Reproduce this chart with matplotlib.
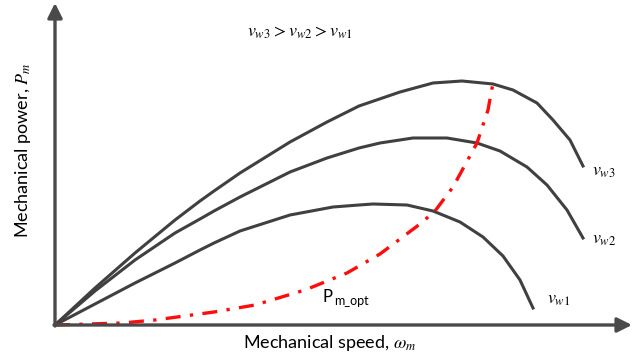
import matplotlib
matplotlib.use("Agg")
import matplotlib.pyplot as plt

plt.rcParams['mathtext.fontset'] = 'stix'
plt.rcParams['font.family'] = ['Lato', 'DejaVu Sans']

# power curves: speed on x, power on y (arbitrary units)
w3 = [0, 40, 80, 120, 145, 159, 185, 235, 272, 304, 345, 378, 407, 438, 458, 482, 498, 515, 528]
p3 = [0, 37, 72, 105, 124, 134, 152, 183, 203, 219, 233, 242, 244, 241, 235, 222, 205, 185, 159]

w2 = [0, 40, 80, 120, 145, 159, 185, 235, 272, 304, 325, 358, 392, 422, 445, 472, 492, 512, 528]
p2 = [0, 34, 65, 92, 106, 114, 128, 153, 167, 177, 182, 187, 187, 182, 174, 158, 140, 115, 87]

w1 = [0, 80, 120, 145, 159, 185, 235, 278, 304, 318, 352, 378, 405, 428, 448, 465, 478]
p1 = [0, 42, 62, 75, 82, 94, 110, 118, 120, 121, 120, 114, 103, 88, 69, 45, 17]

# optimum power locus
w_opt = [0, 67, 100, 159, 200, 250, 292, 325, 365, 380, 398, 422, 433, 438]
p_opt = [0, 2, 5, 13, 20, 35, 52, 71, 101, 114, 138, 182, 215, 242]

dark = '#404040'

fig = plt.figure(figsize=(6.4, 3.6), dpi=100)
ax = fig.add_axes([0, 0, 1, 1])
ax.set_xlim(-55, 585)
ax.set_ylim(-35, 325)
ax.axis('off')

for w, p in [(w3, p3), (w2, p2), (w1, p1)]:
    ax.plot(w, p, color=dark, lw=2.2, solid_joinstyle='round')
ax.plot(w_opt, p_opt, color='#ff0d0d', lw=2.4, ls=(0, (4.5, 2.8, 1, 2.8)))

# axis arrows
arr = dict(arrowstyle='-|>', color='#4a4a4a', lw=2.4, mutation_scale=22, shrinkA=0, shrinkB=0)
ax.annotate('', xy=(0, 322), xytext=(0, -1), arrowprops=arr)
ax.annotate('', xy=(577, 0), xytext=(-1, 0), arrowprops=arr)

ax.text(-32, 175, 'Mechanical power, $P_m$', rotation=90, ha='center', va='center', fontsize=13)
ax.text(275, -18, 'Mechanical speed, $\\omega_m$', ha='center', va='center', fontsize=13)

ax.text(245, 292, '$v_{w3} > v_{w2} > v_{w1}$', ha='center', va='center', fontsize=13)
ax.text(537, 153, '$v_{w3}$', ha='left', va='center', fontsize=13)
ax.text(537, 85, '$v_{w2}$', ha='left', va='center', fontsize=13)
ax.text(492, 25, '$v_{w1}$', ha='left', va='center', fontsize=13)

# P_m_opt label, sans subscript
ax.text(268, 28, 'P', ha='left', va='center', fontsize=12)
ax.text(279, 24, 'm_opt', ha='left', va='center', fontsize=9)

fig.savefig('out.png', dpi=100)
